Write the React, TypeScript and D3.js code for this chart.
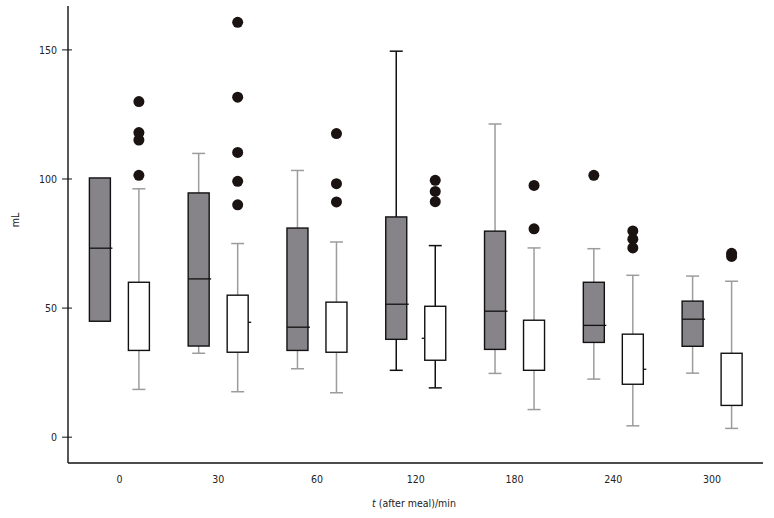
import React from 'react';
import * as d3 from 'd3';

// time points after the meal (min)
const categories = ['0', '30', '60', '120', '180', '240', '300'];

// grey series: box-plot statistics (mL)
const greyLow = [44.9, 32.5, 26.5, 25.9, 24.7, 22.5, 24.8];
const greyQ1 = [44.9, 35.3, 33.6, 37.9, 34.0, 36.7, 35.2];
const greyMedian = [73.2, 61.3, 42.6, 51.5, 48.8, 43.3, 45.7];
const greyQ3 = [100.4, 94.6, 81.0, 85.3, 79.8, 60.0, 52.7];
const greyHigh = [100.4, 109.9, 103.3, 149.5, 121.3, 73.0, 62.4];
const greyOutliers = [[], [], [], [], [], [101.4], []];

// white series
const whiteLow = [18.5, 17.6, 17.2, 19.1, 10.7, 4.4, 3.4];
const whiteQ1 = [33.6, 32.9, 32.9, 29.8, 25.9, 20.5, 12.3];
const whiteMedian = [null, 44.5, null, 38.3, null, 26.3, null];
const whiteQ3 = [60.0, 55.0, 52.3, 50.7, 45.3, 39.9, 32.5];
const whiteHigh = [96.2, 75.0, 75.6, 74.2, 73.3, 62.7, 60.4];
const whiteOutliers = [
  [130.0, 118.0, 115.1, 101.4],
  [160.7, 131.7, 110.3, 99.1, 90.0],
  [117.6, 98.2, 91.1],
  [99.5, 95.2, 91.2],
  [97.5, 80.7],
  [],
  [71.2, 70.0],
];
const whiteOutliers240 = [79.9, 76.7, 73.3];

const yTicks = [0, 50, 100, 150];

const W = 774;
const H = 518;
const left = 68;
const right = 763;
const top = 6;
const bottom = 463;
const font = "'DejaVu Sans Condensed', 'DejaVu Sans', sans-serif";

export default function App() {
  const x = d3.scaleBand<string>().domain(categories).range([70, 761.5]);
  const y = d3.scaleLinear().domain([-10, 167]).range([bottom, top]);
  const boxW = 21;
  const off = 19.5;
  const capW = 13;
  const whiskerGrey = '#9c9c9c';

  const whiteOut = whiteOutliers.map((o, i) => (i === 5 ? whiteOutliers240 : o));

  const drawBox = (
    key: string,
    cx: number,
    lo: number,
    q1: number,
    med: number | null,
    q3: number,
    hi: number,
    fill: string,
    dark: boolean,
    stubLeft: boolean,
  ) => {
    const wc = dark ? '#111' : whiskerGrey;
    const x0 = cx - boxW / 2;
    return (
      <g key={key}>
        {hi > q3 && (
          <g stroke={wc} strokeWidth={1.5}>
            <line x1={cx} x2={cx} y1={y(hi)} y2={y(q3)} />
            <line x1={cx - capW / 2} x2={cx + capW / 2} y1={y(hi)} y2={y(hi)} />
          </g>
        )}
        {lo < q1 && (
          <g stroke={wc} strokeWidth={1.5}>
            <line x1={cx} x2={cx} y1={y(q1)} y2={y(lo)} />
            <line x1={cx - capW / 2} x2={cx + capW / 2} y1={y(lo)} y2={y(lo)} />
          </g>
        )}
        <rect x={x0} y={y(q3)} width={boxW} height={y(q1) - y(q3)} fill={fill} stroke="#111" strokeWidth={1.4} />
        {med != null && fill !== '#fff' && (
          <line x1={x0} x2={x0 + boxW + 2} y1={y(med)} y2={y(med)} stroke="#111" strokeWidth={1.3} />
        )}
        {med != null && fill === '#fff' && (
          <line
            x1={stubLeft ? x0 - 3 : x0 + boxW}
            x2={stubLeft ? x0 : x0 + boxW + 3}
            y1={y(med)}
            y2={y(med)}
            stroke="#111"
            strokeWidth={1.3}
          />
        )}
      </g>
    );
  };

  return (
    <svg width={W} height={H} style={{ position: 'absolute', left: 0, top: 0, background: '#fff' }} fontFamily={font}>
      {/* axes */}
      <line x1={left} x2={left} y1={top} y2={bottom} stroke="#111" strokeWidth={1.4} />
      <line x1={left} x2={right} y1={bottom} y2={bottom} stroke="#111" strokeWidth={1.4} />
      {yTicks.map((t) => (
        <g key={t}>
          <line x1={left - 6} x2={left + 4} y1={y(t)} y2={y(t)} stroke="#111" strokeWidth={1} />
          <text x={57} y={y(t)} dy="0.35em" textAnchor="end" fontSize={10.5} fill="#222">
            {t}
          </text>
        </g>
      ))}
      {categories.map((c) => (
        <text key={c} x={(x(c) ?? 0) + x.bandwidth() / 2} y={483} textAnchor="middle" fontSize={10.5} fill="#222">
          {c}
        </text>
      ))}
      <text x={414} y={507} textAnchor="middle" fontSize={10.5} fill="#222">
        <tspan fontStyle="italic">t</tspan> (after meal)/min
      </text>
      <text transform="translate(19,220) rotate(-90)" textAnchor="middle" fontSize={10.5} fill="#222">
        mL
      </text>

      {categories.map((c, i) => {
        const cx = (x(c) ?? 0) + x.bandwidth() / 2;
        const dark = c === '120';
        return (
          <g key={c}>
            {drawBox('g' + c, cx - off, greyLow[i], greyQ1[i], greyMedian[i], greyQ3[i], greyHigh[i], '#878489', dark, false)}
            {drawBox('w' + c, cx + off, whiteLow[i], whiteQ1[i], whiteMedian[i], whiteQ3[i], whiteHigh[i], '#fff', dark, c === '120')}
            {greyOutliers[i].map((v, j) => (
              <circle key={'go' + j} cx={cx - off} cy={y(v)} r={5.5} fill="#1a1311" />
            ))}
            {whiteOut[i].map((v, j) => (
              <circle key={'wo' + j} cx={cx + off} cy={y(v)} r={5.5} fill="#1a1311" />
            ))}
          </g>
        );
      })}
    </svg>
  );
}
